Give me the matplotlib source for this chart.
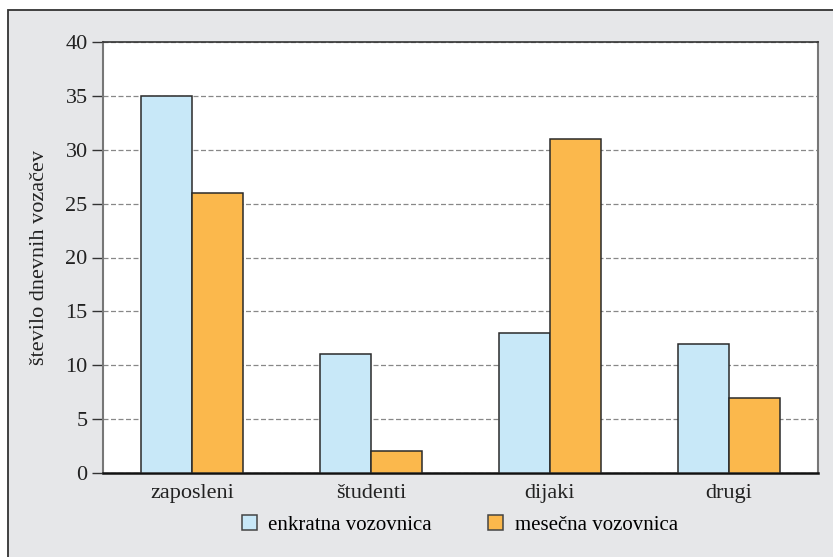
import numpy as np
import matplotlib.pyplot as plt
from matplotlib.patches import Rectangle, Patch

categories = ['zaposleni', 'študenti', 'dijaki', 'drugi']
enkratna = [35, 11, 13, 12]
mesecna = [26, 2, 31, 7]
series_labels = ['enkratna vozovnica', 'mesečna vozovnica']
yticks = [0, 5, 10, 15, 20, 25, 30, 35, 40]

blue = '#c8e8f8'
orange = '#fbb84c'
bg = '#e6e7e9'

plt.rcParams['font.family'] = ['Liberation Serif', 'DejaVu Serif']

fig = plt.figure(figsize=(8.33, 5.57), dpi=100)
fig.patch.set_facecolor('white')

# gray panel with dark frame, running off the right and bottom edges
W, H = 833, 557
fig.patches.append(Rectangle((8 / W, -0.1), 1.2, 1 - 10 / H + 0.1,
                             transform=fig.transFigure, facecolor=bg,
                             edgecolor='#333333', linewidth=1.3, zorder=-5))

ax = fig.add_axes([103 / W, 1 - 473 / H, (818 - 103) / W, (473 - 42) / H])
ax.set_zorder(2)
ax.set_facecolor('white')

x = np.arange(len(categories))
w = 0.285
ax.bar(x - w / 2, enkratna, w, color=blue, edgecolor='#2a2a2a', linewidth=1.1, zorder=3)
ax.bar(x + w / 2, mesecna, w, color=orange, edgecolor='#2a2a2a', linewidth=1.1, zorder=3)

ax.set_xlim(-0.5, len(categories) - 0.5)
ax.set_ylim(0, 40)
ax.set_yticks(yticks)
ax.set_xticks(x)
ax.set_xticklabels(categories)
ax.tick_params(axis='y', length=8, width=1, color='#333333', labelsize=16, pad=3)
ax.tick_params(axis='x', length=0, labelsize=16, pad=8)
for lab in ax.get_xticklabels() + ax.get_yticklabels():
    lab.set_color('#222222')

ax.yaxis.grid(True, linestyle=(0, (4, 2)), color='#888888', linewidth=0.9, zorder=1)
ax.set_axisbelow(True)

for side in ['left', 'right']:
    ax.spines[side].set_color('#777777')
    ax.spines[side].set_linewidth(1.5)
ax.spines['top'].set_color('#333333')
ax.spines['top'].set_linewidth(1.2)
ax.spines['bottom'].set_color('#111111')
ax.spines['bottom'].set_linewidth(1.8)

ax.set_ylabel('število dnevnih vozačev', fontsize=16, color='#222222', labelpad=12)

handles = [Patch(facecolor=blue, edgecolor='#444444', linewidth=1.1),
           Patch(facecolor=orange, edgecolor='#444444', linewidth=1.1)]
fig.legend(handles, series_labels, loc='center', bbox_to_anchor=(460 / W, 1 - 525 / H),
           ncol=2, frameon=False, fontsize=15, handlelength=0.72, handleheight=0.72,
           handletextpad=0.55, columnspacing=2.7)

fig.savefig('out.png', dpi=100)
